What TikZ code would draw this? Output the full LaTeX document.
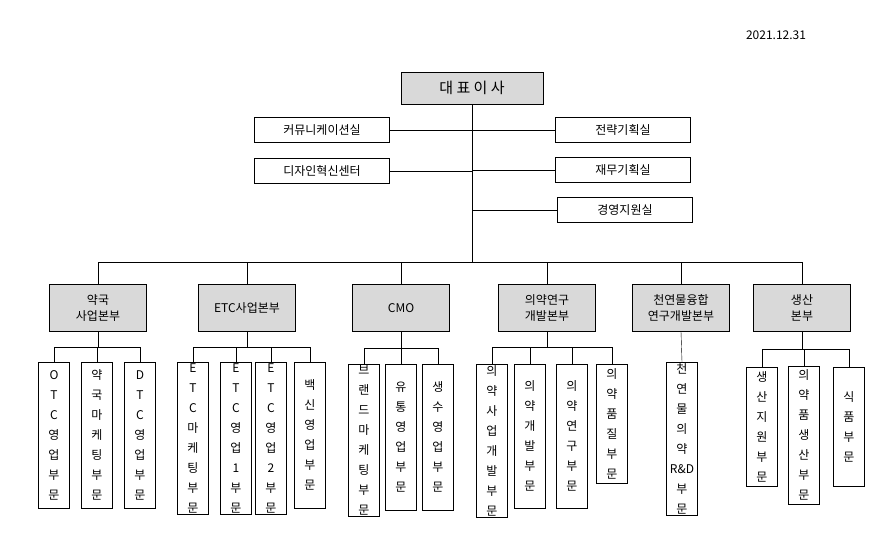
\documentclass[tikz,border=0pt]{standalone}
\usepackage{fontspec}
\setmainfont{Noto Sans CJK KR}
\tikzset{
  topbox/.style={draw,fill=gray!30,minimum width=142,minimum height=32,font=\fontsize{15}{18}\selectfont},
  staffbox/.style={draw,minimum width=135,minimum height=25,font=\fontsize{12}{14}\selectfont},
  divbox/.style={draw,fill=gray!30,minimum width=97,minimum height=47,align=center,font=\fontsize{12}{16}\selectfont},
  colbox/.style={draw,anchor=north,minimum width=31,align=center,inner sep=1pt,font=\fontsize{12}{20}\selectfont},
}
\begin{document}
\begin{tikzpicture}[x=1pt,y=-1pt]
  \useasboundingbox (0,0) rectangle (896,546);
  \node at (776,35) {\fontsize{12}{14}\selectfont 2021.12.31};

  \node[topbox] (ceo) at (472,88) {대 표 이 사};
  \coordinate (trunk) at (472,262);
  \draw (ceo) -- (trunk);

  % staff offices
  \node[staffbox] (s1) at (322,130) {커뮤니케이션실};
  \node[staffbox] (s2) at (322,171) {디자인혁신센터};
  \node[staffbox] (s3) at (623,130) {전략기획실};
  \node[staffbox] (s4) at (623,170) {재무기획실};
  \node[staffbox] (s5) at (625,210) {경영지원실};
  \foreach \s in {s1,s2} \draw (\s.east) -- (\s.east -| trunk);
  \foreach \s in {s3,s4,s5} \draw (\s.west) -- (\s.west -| trunk);

  % divisions
  \foreach \n/\x/\t in {d1/98/{약국\\사업본부},d2/247/{ETC사업본부},d3/401/{CMO},
      d4/547/{의약연구\\개발본부},d5/681/{천연물융합\\연구개발본부},d6/802/{생산\\본부}} {
    \node[divbox] (\n) at (\x,308) {\t};
    \draw (\n.north) -- (\n.north |- trunk);
  }
  \draw (d1.north |- trunk) -- (d6.north |- trunk);

  % departments
  \foreach \n/\x/\y/\h/\t in {
      c11/54/362/146/{O\\T\\C\\영\\업\\부\\문},
      c12/97/362/146/{약\\국\\마\\케\\팅\\부\\문},
      c13/140/362/146/{D\\T\\C\\영\\업\\부\\문},
      c21/193/362/146/{E\\T\\C\\마\\케\\팅\\부\\문},
      c22/236/362/146/{E\\T\\C\\영\\업\\1\\부\\문},
      c23/271/362/146/{E\\T\\C\\영\\업\\2\\부\\문},
      c24/310/362/146/{백\\신\\영\\업\\부\\문},
      c31/364/364/146/{브\\랜\\드\\마\\케\\팅\\부\\문},
      c32/401/364/146/{유\\통\\영\\업\\부\\문},
      c33/438/364/146/{생\\수\\영\\업\\부\\문},
      c41/492/364/144/{의\\약\\사\\업\\개\\발\\부\\문},
      c42/530/364/144/{의\\약\\개\\발\\부\\문},
      c43/572/364/144/{의\\약\\연\\구\\부\\문},
      c44/612/364/119/{의\\약\\품\\질\\부\\문},
      c51/682/362/143/{천\\연\\물\\의\\약\\R\&D\\부\\문},
      c61/762/367/119/{생\\산\\지\\원\\부\\문},
      c62/804/366/138/{의\\약\\품\\생\\산\\부\\문},
      c63/849/367/119/{식\\품\\부\\문}} {
    \node[colbox,minimum height=\h] (\n) at (\x,\y) {\t};
  }

  % department connectors
  \foreach \d/\a/\b/\y in {d1/c11/c13/347,d2/c21/c24/347,d3/c31/c33/348,d4/c41/c44/347,d6/c61/c63/349} {
    \draw (\d.south) -- (\d.south |- 0,\y);
    \draw (\a.north) -- (\a.north |- 0,\y) -- (\b.north |- 0,\y) -- (\b.north);
  }
  \foreach \c/\y in {c12/347,c22/347,c23/347,c32/348,c42/347,c43/347,c62/349}
    \draw (\c.north) -- (\c.north |- 0,\y);
  \draw (d5.south) -- (c51.north);
\end{tikzpicture}
\end{document}
